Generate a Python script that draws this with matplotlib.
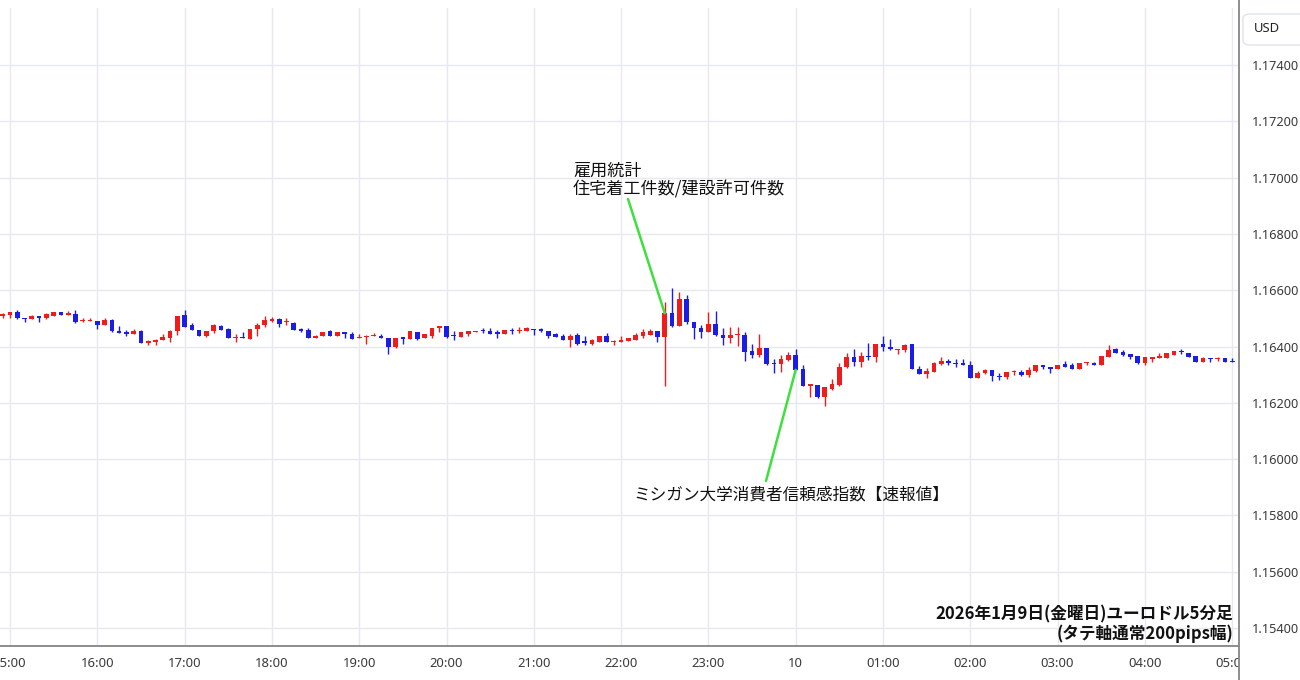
import matplotlib
matplotlib.use("Agg")
import matplotlib.pyplot as plt
import matplotlib.dates as mdates
from matplotlib.lines import Line2D
from matplotlib.patches import FancyBboxPatch
from matplotlib.transforms import Bbox
import numpy as np
import pandas as pd

# ---------------- data (EUR/USD 5-minute candles) ----------------
start_time = "2026-01-09 14:55"

open_ = [
    1.16507, 1.16512, 1.16524, 1.16503, 1.16497, 1.16507, 1.16500, 1.16509, 1.16521, 1.16512,
    1.16516, 1.16489, 1.16490, 1.16492, 1.16478, 1.16494, 1.16456, 1.16450, 1.16444, 1.16454,
    1.16412, 1.16415, 1.16422, 1.16430, 1.16454, 1.16512, 1.16476, 1.16459, 1.16439, 1.16454,
    1.16474, 1.16462, 1.16429, 1.16432, 1.16426, 1.16461, 1.16475, 1.16492, 1.16498, 1.16487,
    1.16485, 1.16461, 1.16457, 1.16431, 1.16436, 1.16455, 1.16438, 1.16450, 1.16444, 1.16429,
    1.16433, 1.16436, 1.16439, 1.16430, 1.16398, 1.16432, 1.16426, 1.16452, 1.16429, 1.16436,
    1.16464, 1.16474, 1.16442, 1.16433, 1.16445, 1.16450, 1.16457, 1.16455, 1.16450, 1.16443,
    1.16458, 1.16455, 1.16455, 1.16463, 1.16462, 1.16455, 1.16444, 1.16436, 1.16422, 1.16441,
    1.16418, 1.16410, 1.16415, 1.16439, 1.16415, 1.16415, 1.16418, 1.16424, 1.16438, 1.16442,
    1.16455, 1.16435, 1.16518, 1.16474, 1.16569, 1.16488, 1.16465, 1.16452, 1.16480, 1.16441,
    1.16429, 1.16440, 1.16441, 1.16384, 1.16369, 1.16394, 1.16343, 1.16337, 1.16352, 1.16370,
    1.16320, 1.16260, 1.16264, 1.16220, 1.16249, 1.16263, 1.16326, 1.16362, 1.16345, 1.16366,
    1.16362, 1.16409, 1.16400, 1.16388, 1.16388, 1.16408, 1.16319, 1.16302, 1.16311, 1.16338,
    1.16349, 1.16340, 1.16340, 1.16334, 1.16287, 1.16305, 1.16317, 1.16295, 1.16291, 1.16310,
    1.16311, 1.16299, 1.16314, 1.16334, 1.16326, 1.16319, 1.16337, 1.16334, 1.16319, 1.16340,
    1.16343, 1.16334, 1.16364, 1.16390, 1.16382, 1.16373, 1.16366, 1.16340, 1.16354, 1.16360,
    1.16360, 1.16370, 1.16383, 1.16378, 1.16366, 1.16346, 1.16358, 1.16354, 1.16358, 1.16350,
]

high = [
    1.16518, 1.16523, 1.16528, 1.16503, 1.16511, 1.16507, 1.16518, 1.16523, 1.16523, 1.16525,
    1.16530, 1.16500, 1.16501, 1.16492, 1.16500, 1.16497, 1.16474, 1.16459, 1.16462, 1.16459,
    1.16422, 1.16426, 1.16445, 1.16459, 1.16510, 1.16530, 1.16483, 1.16459, 1.16455, 1.16481,
    1.16478, 1.16464, 1.16445, 1.16450, 1.16462, 1.16483, 1.16507, 1.16504, 1.16502, 1.16502,
    1.16488, 1.16464, 1.16465, 1.16442, 1.16452, 1.16459, 1.16450, 1.16450, 1.16450, 1.16445,
    1.16440, 1.16448, 1.16445, 1.16430, 1.16430, 1.16432, 1.16454, 1.16452, 1.16444, 1.16466,
    1.16474, 1.16474, 1.16455, 1.16450, 1.16454, 1.16456, 1.16464, 1.16464, 1.16457, 1.16459,
    1.16465, 1.16469, 1.16469, 1.16463, 1.16466, 1.16455, 1.16448, 1.16443, 1.16443, 1.16448,
    1.16436, 1.16426, 1.16439, 1.16448, 1.16424, 1.16436, 1.16430, 1.16448, 1.16462, 1.16461,
    1.16455, 1.16559, 1.16607, 1.16592, 1.16583, 1.16488, 1.16476, 1.16524, 1.16527, 1.16465,
    1.16468, 1.16468, 1.16450, 1.16409, 1.16443, 1.16394, 1.16355, 1.16370, 1.16382, 1.16391,
    1.16335, 1.16266, 1.16264, 1.16255, 1.16283, 1.16340, 1.16378, 1.16390, 1.16382, 1.16414,
    1.16409, 1.16437, 1.16425, 1.16392, 1.16409, 1.16408, 1.16331, 1.16323, 1.16346, 1.16362,
    1.16355, 1.16355, 1.16355, 1.16350, 1.16314, 1.16320, 1.16317, 1.16305, 1.16311, 1.16317,
    1.16317, 1.16326, 1.16334, 1.16334, 1.16326, 1.16334, 1.16350, 1.16340, 1.16343, 1.16346,
    1.16346, 1.16366, 1.16405, 1.16394, 1.16388, 1.16373, 1.16366, 1.16364, 1.16364, 1.16376,
    1.16378, 1.16385, 1.16390, 1.16378, 1.16366, 1.16364, 1.16358, 1.16364, 1.16358, 1.16358,
]

low = [
    1.16501, 1.16500, 1.16497, 1.16488, 1.16497, 1.16488, 1.16497, 1.16509, 1.16511, 1.16511,
    1.16485, 1.16488, 1.16489, 1.16462, 1.16478, 1.16452, 1.16448, 1.16438, 1.16443, 1.16412,
    1.16405, 1.16407, 1.16422, 1.16415, 1.16441, 1.16469, 1.16457, 1.16439, 1.16433, 1.16448,
    1.16457, 1.16429, 1.16416, 1.16429, 1.16426, 1.16439, 1.16471, 1.16487, 1.16471, 1.16478,
    1.16457, 1.16450, 1.16430, 1.16429, 1.16436, 1.16436, 1.16438, 1.16429, 1.16426, 1.16429,
    1.16410, 1.16436, 1.16430, 1.16374, 1.16395, 1.16410, 1.16426, 1.16422, 1.16429, 1.16431,
    1.16450, 1.16429, 1.16422, 1.16433, 1.16438, 1.16450, 1.16448, 1.16443, 1.16429, 1.16443,
    1.16444, 1.16448, 1.16455, 1.16441, 1.16452, 1.16429, 1.16433, 1.16422, 1.16400, 1.16406,
    1.16406, 1.16407, 1.16415, 1.16415, 1.16406, 1.16415, 1.16418, 1.16424, 1.16430, 1.16440,
    1.16415, 1.16260, 1.16468, 1.16474, 1.16480, 1.16426, 1.16429, 1.16452, 1.16437, 1.16405,
    1.16414, 1.16402, 1.16350, 1.16360, 1.16362, 1.16336, 1.16305, 1.16311, 1.16350, 1.16317,
    1.16258, 1.16222, 1.16216, 1.16187, 1.16246, 1.16258, 1.16323, 1.16331, 1.16328, 1.16352,
    1.16346, 1.16385, 1.16388, 1.16372, 1.16382, 1.16319, 1.16302, 1.16287, 1.16311, 1.16334,
    1.16334, 1.16328, 1.16333, 1.16287, 1.16287, 1.16302, 1.16279, 1.16281, 1.16283, 1.16299,
    1.16295, 1.16293, 1.16311, 1.16319, 1.16307, 1.16319, 1.16328, 1.16319, 1.16319, 1.16334,
    1.16334, 1.16334, 1.16362, 1.16378, 1.16366, 1.16354, 1.16338, 1.16334, 1.16344, 1.16360,
    1.16360, 1.16370, 1.16373, 1.16362, 1.16346, 1.16346, 1.16344, 1.16350, 1.16346, 1.16346,
]

close = [
    1.16516, 1.16523, 1.16500, 1.16498, 1.16507, 1.16502, 1.16514, 1.16521, 1.16512, 1.16518,
    1.16488, 1.16492, 1.16494, 1.16477, 1.16494, 1.16454, 1.16448, 1.16445, 1.16454, 1.16412,
    1.16418, 1.16424, 1.16432, 1.16456, 1.16510, 1.16471, 1.16457, 1.16439, 1.16455, 1.16475,
    1.16457, 1.16431, 1.16433, 1.16429, 1.16462, 1.16478, 1.16494, 1.16497, 1.16480, 1.16490,
    1.16459, 1.16455, 1.16430, 1.16439, 1.16452, 1.16436, 1.16450, 1.16444, 1.16426, 1.16432,
    1.16436, 1.16439, 1.16430, 1.16400, 1.16430, 1.16426, 1.16454, 1.16426, 1.16444, 1.16466,
    1.16474, 1.16433, 1.16436, 1.16450, 1.16454, 1.16456, 1.16454, 1.16445, 1.16446, 1.16459,
    1.16455, 1.16459, 1.16464, 1.16459, 1.16455, 1.16438, 1.16433, 1.16422, 1.16439, 1.16410,
    1.16412, 1.16424, 1.16439, 1.16415, 1.16419, 1.16424, 1.16430, 1.16442, 1.16450, 1.16456,
    1.16435, 1.16518, 1.16473, 1.16569, 1.16486, 1.16465, 1.16453, 1.16480, 1.16440, 1.16429,
    1.16441, 1.16445, 1.16382, 1.16370, 1.16394, 1.16338, 1.16337, 1.16356, 1.16370, 1.16317,
    1.16258, 1.16266, 1.16219, 1.16255, 1.16267, 1.16328, 1.16364, 1.16346, 1.16366, 1.16362,
    1.16409, 1.16400, 1.16390, 1.16392, 1.16405, 1.16319, 1.16302, 1.16314, 1.16343, 1.16350,
    1.16340, 1.16337, 1.16333, 1.16287, 1.16307, 1.16317, 1.16295, 1.16291, 1.16308, 1.16313,
    1.16299, 1.16317, 1.16334, 1.16326, 1.16319, 1.16334, 1.16328, 1.16319, 1.16343, 1.16343,
    1.16334, 1.16366, 1.16388, 1.16378, 1.16370, 1.16364, 1.16340, 1.16362, 1.16362, 1.16366,
    1.16376, 1.16383, 1.16379, 1.16364, 1.16346, 1.16358, 1.16354, 1.16358, 1.16346, 1.16346,
]

price_ticks = [1.15400, 1.15600, 1.15800, 1.16000, 1.16200, 1.16400,
               1.16600, 1.16800, 1.17000, 1.17200, 1.17400]
time_ticks = ["2026-01-09 15:00", "2026-01-09 16:00", "2026-01-09 17:00",
              "2026-01-09 18:00", "2026-01-09 19:00", "2026-01-09 20:00",
              "2026-01-09 21:00", "2026-01-09 22:00", "2026-01-09 23:00",
              "2026-01-10 00:00", "2026-01-10 01:00", "2026-01-10 02:00",
              "2026-01-10 03:00", "2026-01-10 04:00", "2026-01-10 05:00"]
time_labels = ["15:00", "16:00", "17:00", "18:00", "19:00", "20:00", "21:00",
               "22:00", "23:00", "10", "01:00", "02:00", "03:00", "04:00", "05:00"]

note1 = "雇用統計\n住宅着工件数/建設許可件数"
note2 = "ミシガン大学消費者信頼感指数【速報値】"
caption = "2026年1月9日(金曜日)ユーロドル5分足\n(タテ軸通常200pips幅)"
currency = "USD"

# ---------------- drawing ----------------
CJK = ["Noto Sans CJK JP", "DejaVu Sans"]
UP = "#f01c1c"
DOWN = "#1c1ce8"
GRID = "#e6eaf0"
AXIS = "#7a7a7a"

W, H = 1300, 680
fig = plt.figure(figsize=(W / 100, H / 100), dpi=100)
fig.patch.set_facecolor("white")
ax = fig.add_axes([0, 34 / H, 1238 / W, (646 - 8) / H])

times = pd.date_range(start_time, periods=len(close), freq="5min")
x = mdates.date2num(times.to_pydatetime())
o = np.array(open_)
h = np.array(high)
l = np.array(low)
c = np.array(close)
colors = np.where(c >= o, UP, DOWN)

step = 5 / (24 * 60)
ax.vlines(x, l, h, colors=colors, linewidth=1.0, zorder=3)
body_bottom = np.minimum(o, c)
body_h = np.maximum(np.abs(c - o), 0.000035)
ax.bar(x, body_h, bottom=body_bottom, width=step * 0.64, color=colors,
       linewidth=0, zorder=4)

# axes limits (pixel calibrated)
t15 = mdates.date2num(pd.Timestamp("2026-01-09 15:00").to_pydatetime())
hour = 1 / 24
px_per_hour = 87.3
ax.set_xlim(t15 + (0 - 10) / px_per_hour * hour, t15 + (1238 - 10) / px_per_hour * hour)
ppx = 0.002 / 56.3
ax.set_ylim(1.174 - (646 - 65) * ppx, 1.174 + (65 - 8) * ppx)

# grid and ticks
xt = mdates.date2num(pd.to_datetime(time_ticks).to_pydatetime())
ax.set_xticks(xt)
ax.set_xticklabels(time_labels)
ax.set_yticks(price_ticks)
ax.set_yticklabels([f"{v:.5f}" for v in price_ticks])
ax.grid(True, color=GRID, linewidth=1.0, zorder=0)
ax.set_axisbelow(True)

for s in ["left", "top", "right"]:
    ax.spines[s].set_visible(False)
ax.spines["bottom"].set_color(AXIS)
ax.spines["bottom"].set_linewidth(1.2)

ax.yaxis.tick_right()
ax.tick_params(axis="y", length=0, pad=10, labelsize=9.2, labelcolor="#3a3a3a")
ax.tick_params(axis="x", length=0, pad=8, labelsize=9.4, labelcolor="#3a3a3a")
for lab in ax.get_yticklabels() + ax.get_xticklabels():
    lab.set_fontfamily(["Noto Sans", "DejaVu Sans"])
ax.get_xticklabels()[9].set_fontweight("bold")
# time labels are clipped by the price-scale panel on the right
clip = Bbox.from_extents(0, 0, 1238, H)
for lab in ax.get_xticklabels():
    lab.set_clip_on(True)
    lab.set_clip_box(clip)

# right vertical axis line across full figure height
fig.add_artist(Line2D([1238.5 / W, 1238.5 / W], [0, 1], transform=fig.transFigure,
                      color=AXIS, linewidth=1.2))

# currency box
fig.add_artist(FancyBboxPatch((1243 / W, 1 - 45 / H), 64 / W, 31 / H,
                              boxstyle="round,pad=0,rounding_size=0.006",
                              transform=fig.transFigure, facecolor="white",
                              edgecolor="#e0e3eb", linewidth=1.0))
fig.text(1267 / W, 1 - 29 / H, currency, ha="center", va="center", fontsize=9.4,
         color="#222222", family=["Noto Sans", "DejaVu Sans"])

# annotations
GREEN = "#3ee03e"
def px2t(px):
    return t15 + (px - 10) / px_per_hour * hour
def py2p(py):
    return 1.174 - (py - 65) * ppx

ax.annotate("", xy=(x[91], c[91]), xytext=(px2t(628), py2p(199)),
            arrowprops=dict(arrowstyle="-", color=GREEN, lw=1.8,
                            shrinkA=0, shrinkB=0), zorder=5)
ax.annotate("", xy=(x[109], c[109]), xytext=(px2t(766), py2p(481)),
            arrowprops=dict(arrowstyle="-", color=GREEN, lw=1.8,
                            shrinkA=0, shrinkB=0), zorder=5)
ax.text(px2t(573), py2p(180), note1, ha="left", va="center", fontsize=12.3,
        family=CJK, color="#111111", linespacing=1.05, zorder=6)
ax.text(px2t(633), py2p(495), note2, ha="left", va="center", fontsize=12,
        family=CJK, color="#111111", zorder=6)

fig.text(1233 / W, 1 - 624.5 / H, caption, ha="right", va="center",
         multialignment="right", fontsize=12, fontweight="bold",
         family=CJK, color="#111111", linespacing=1.1)

fig.savefig("out.png", dpi=100, facecolor="white")
